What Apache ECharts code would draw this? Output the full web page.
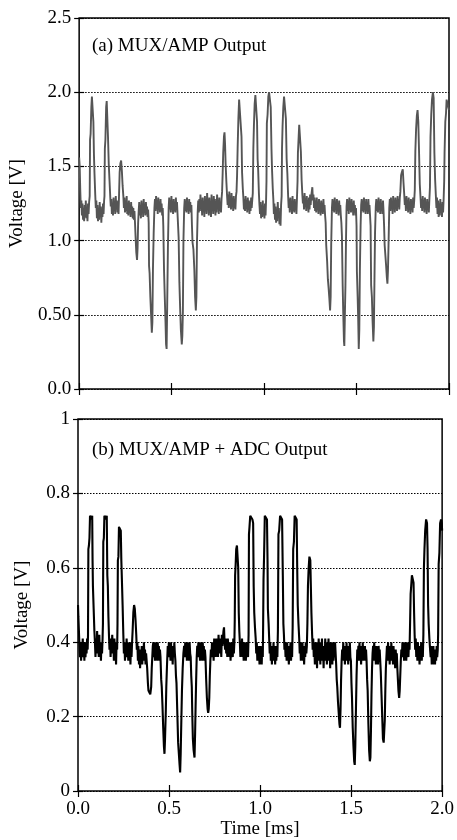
<!DOCTYPE html>
<html><head><meta charset="utf-8">
<script src="https://cdn.jsdelivr.net/npm/echarts@6/dist/echarts.min.js"></script>
<style>html,body{margin:0;padding:0;background:#fff}#c{width:457px;height:840px}</style>
</head><body><div id="c"></div>
<script>
const timeTicks = ['0.0','0.5','1.0','1.5','2.0'];
const voltTicksA = ['0.0','0.50','1.0','1.5','2.0','2.5'];
const voltTicksB = ['0','0.2','0.4','0.6','0.8','1'];
const panelTitles = ['(a) MUX/AMP Output','(b) MUX/AMP + ADC Output'];
const axisTitles = ['Time [ms]','Voltage [V]'];

// (a) MUX/AMP output: [time ms, voltage V]
const muxAmp = [
[0.000,1.56],[0.003,1.50],[0.006,1.34],[0.009,1.22],[0.012,1.27],[0.015,1.17],[0.018,1.25],[0.021,1.14],[0.024,1.22],[0.027,1.13],[0.030,1.24],[0.033,1.16],[0.036,1.27],[0.039,1.15],[0.042,1.21],[0.045,1.13],[0.048,1.25],[0.051,1.18],[0.054,1.26],
[0.057,1.30],[0.059,1.68],[0.062,1.72],[0.066,1.90],[0.069,1.97],[0.074,1.97],[0.077,1.80],[0.080,1.58],[0.083,1.45],[0.087,1.31],
[0.090,1.22],[0.093,1.27],[0.096,1.15],[0.099,1.24],[0.102,1.13],[0.105,1.20],[0.108,1.14],[0.111,1.26],[0.114,1.17],[0.117,1.23],[0.120,1.12],[0.123,1.21],[0.126,1.16],[0.129,1.25],[0.132,1.18],[0.135,1.27],
[0.137,1.30],[0.139,1.62],[0.142,1.68],[0.146,1.90],[0.149,1.94],[0.153,1.93],[0.156,1.70],[0.160,1.52],[0.164,1.41],[0.168,1.30],
[0.171,1.23],[0.174,1.28],[0.177,1.18],[0.180,1.25],[0.183,1.17],[0.186,1.29],[0.189,1.20],[0.192,1.26],[0.195,1.18],[0.198,1.30],[0.201,1.21],[0.204,1.27],[0.207,1.19],[0.210,1.24],[0.213,1.18],
[0.216,1.32],[0.219,1.46],[0.223,1.52],[0.227,1.54],[0.231,1.47],[0.235,1.37],[0.239,1.30],
[0.242,1.22],[0.245,1.29],[0.248,1.19],[0.251,1.27],[0.254,1.20],[0.257,1.30],[0.260,1.18],[0.263,1.25],[0.266,1.17],[0.269,1.27],[0.272,1.19],[0.275,1.24],[0.278,1.16],[0.281,1.26],[0.284,1.18],[0.287,1.23],[0.290,1.15],[0.293,1.22],[0.296,1.14],[0.299,1.20],
[0.302,1.12],[0.305,1.03],[0.309,0.92],[0.313,0.87],[0.316,0.95],[0.319,1.12],[0.322,1.20],
[0.325,1.26],[0.328,1.17],[0.331,1.24],[0.334,1.15],[0.337,1.27],[0.340,1.19],[0.343,1.25],[0.346,1.16],[0.349,1.28],[0.352,1.20],[0.355,1.24],[0.358,1.17],[0.361,1.26],[0.364,1.18],[0.367,1.23],[0.370,1.16],[0.373,1.21],
[0.376,1.12],[0.378,0.83],[0.381,0.78],[0.385,0.62],[0.389,0.50],[0.393,0.38],[0.396,0.45],[0.399,0.80],[0.403,1.05],[0.407,1.22],
[0.410,1.28],[0.413,1.20],[0.416,1.30],[0.419,1.22],[0.422,1.27],[0.425,1.18],[0.428,1.29],[0.431,1.21],[0.434,1.26],[0.437,1.19],[0.440,1.28],[0.443,1.20],[0.446,1.25],[0.449,1.17],[0.452,1.22],
[0.455,1.10],[0.459,0.80],[0.463,0.62],[0.467,0.45],[0.470,0.30],[0.473,0.27],[0.476,0.55],[0.480,0.95],[0.484,1.22],
[0.487,1.29],[0.490,1.21],[0.493,1.27],[0.496,1.19],[0.499,1.30],[0.502,1.22],[0.505,1.26],[0.508,1.18],[0.511,1.28],[0.514,1.20],[0.517,1.25],[0.520,1.19],[0.523,1.29],[0.526,1.21],[0.529,1.26],[0.532,1.18],
[0.535,1.10],[0.538,1.02],[0.542,0.72],[0.546,0.55],[0.550,0.40],[0.555,0.30],[0.558,0.36],[0.561,0.52],[0.564,1.00],[0.568,1.22],
[0.571,1.28],[0.574,1.20],[0.577,1.27],[0.580,1.19],[0.583,1.29],[0.586,1.21],[0.589,1.25],[0.592,1.18],[0.595,1.28],[0.598,1.20],[0.601,1.26],[0.604,1.19],[0.607,1.24],
[0.610,1.10],[0.613,0.99],[0.618,0.94],[0.623,0.80],[0.627,0.62],[0.631,0.53],[0.634,0.62],[0.637,0.98],[0.641,1.19],
[0.644,1.27],[0.647,1.19],[0.650,1.28],[0.653,1.20],[0.656,1.31],[0.659,1.22],[0.662,1.27],[0.665,1.17],[0.668,1.29],[0.671,1.20],[0.674,1.26],[0.677,1.16],[0.680,1.30],[0.683,1.21],[0.686,1.25],[0.689,1.18],[0.692,1.32],[0.695,1.22],[0.698,1.27],[0.701,1.17],[0.704,1.29],[0.707,1.19],[0.710,1.24],[0.713,1.16],[0.716,1.31],[0.719,1.21],[0.722,1.26],[0.725,1.18],[0.728,1.30],[0.731,1.20],[0.734,1.28],[0.737,1.17],[0.740,1.25],[0.743,1.19],[0.746,1.31],[0.749,1.21],[0.752,1.27],[0.755,1.18],[0.758,1.29],[0.761,1.20],[0.764,1.26],[0.767,1.19],[0.770,1.28],
[0.773,1.33],[0.776,1.45],[0.779,1.59],[0.783,1.70],[0.786,1.73],[0.789,1.65],[0.792,1.52],[0.796,1.40],[0.800,1.30],
[0.803,1.24],[0.806,1.31],[0.809,1.22],[0.812,1.33],[0.815,1.23],[0.818,1.29],[0.821,1.21],[0.824,1.32],[0.827,1.24],[0.830,1.28],[0.833,1.20],[0.836,1.30],[0.839,1.22],[0.842,1.27],[0.845,1.21],[0.848,1.30],
[0.851,1.33],[0.854,1.44],[0.857,1.62],[0.861,1.82],[0.865,1.95],[0.871,1.96],[0.875,1.95],[0.878,1.70],[0.881,1.46],[0.885,1.35],[0.888,1.29],
[0.891,1.21],[0.894,1.28],[0.897,1.20],[0.900,1.30],[0.903,1.22],[0.906,1.26],[0.909,1.19],[0.912,1.29],[0.915,1.21],[0.918,1.27],[0.921,1.18],[0.924,1.26],[0.927,1.20],[0.930,1.29],[0.933,1.22],[0.936,1.27],
[0.939,1.32],[0.942,1.62],[0.945,1.77],[0.949,1.92],[0.953,1.98],[0.958,1.97],[0.962,1.80],[0.965,1.55],[0.968,1.48],[0.972,1.32],
[0.975,1.24],[0.978,1.18],[0.981,1.26],[0.984,1.15],[0.987,1.24],[0.990,1.16],[0.993,1.27],[0.996,1.17],[0.999,1.23],[1.002,1.15],[1.005,1.25],[1.008,1.17],[1.011,1.28],
[1.013,1.40],[1.015,1.79],[1.019,1.85],[1.023,1.97],[1.027,2.00],[1.032,2.00],[1.036,1.90],[1.040,1.62],[1.043,1.48],[1.047,1.35],[1.050,1.28],
[1.053,1.18],[1.056,1.25],[1.059,1.14],[1.062,1.23],[1.065,1.12],[1.068,1.20],[1.071,1.13],[1.074,1.26],[1.077,1.16],[1.080,1.22],[1.083,1.11],[1.086,1.19],[1.089,1.10],[1.092,1.24],
[1.095,1.30],[1.097,1.62],[1.100,1.77],[1.104,1.90],[1.108,1.97],[1.114,1.97],[1.118,1.82],[1.122,1.55],[1.126,1.45],[1.130,1.30],
[1.133,1.22],[1.136,1.28],[1.139,1.19],[1.142,1.29],[1.145,1.21],[1.148,1.26],[1.151,1.18],[1.154,1.30],[1.157,1.20],[1.160,1.27],[1.163,1.19],[1.166,1.28],[1.169,1.21],[1.172,1.26],[1.175,1.18],[1.178,1.29],
[1.181,1.40],[1.183,1.59],[1.187,1.70],[1.190,1.78],[1.195,1.77],[1.199,1.60],[1.203,1.41],[1.207,1.31],
[1.210,1.25],[1.213,1.30],[1.216,1.21],[1.219,1.32],[1.222,1.23],[1.225,1.28],[1.228,1.20],[1.231,1.30],[1.234,1.22],[1.237,1.27],[1.240,1.19],[1.243,1.29],[1.246,1.21],[1.249,1.31],[1.252,1.24],[1.255,1.30],[1.258,1.33],[1.261,1.36],[1.264,1.27],[1.267,1.31],[1.270,1.22],[1.273,1.29],[1.276,1.20],[1.279,1.27],[1.282,1.19],[1.285,1.29],[1.288,1.21],[1.291,1.26],[1.294,1.18],[1.297,1.28],[1.300,1.21],[1.303,1.25],[1.306,1.17],[1.309,1.27],[1.312,1.19],[1.315,1.25],[1.318,1.18],[1.321,1.28],[1.324,1.20],[1.327,1.24],[1.330,1.17],
[1.333,1.12],[1.336,0.97],[1.341,0.86],[1.345,0.74],[1.349,0.68],[1.353,0.61],[1.357,0.53],[1.360,0.62],[1.363,0.97],[1.367,1.22],
[1.370,1.28],[1.373,1.20],[1.376,1.27],[1.379,1.19],[1.382,1.29],[1.385,1.21],[1.388,1.26],[1.391,1.18],[1.394,1.28],[1.397,1.20],[1.400,1.25],[1.403,1.17],[1.406,1.27],[1.409,1.20],[1.412,1.24],[1.415,1.17],
[1.418,1.12],[1.421,1.03],[1.425,0.70],[1.428,0.52],[1.432,0.32],[1.434,0.29],[1.437,0.50],[1.440,0.70],[1.443,1.00],[1.446,1.23],
[1.449,1.28],[1.452,1.20],[1.455,1.27],[1.458,1.18],[1.461,1.29],[1.464,1.21],[1.467,1.26],[1.470,1.19],[1.473,1.28],[1.476,1.20],[1.479,1.25],[1.482,1.17],[1.485,1.27],[1.488,1.19],[1.491,1.24],[1.494,1.17],[1.497,1.22],
[1.500,1.10],[1.502,0.79],[1.506,0.62],[1.509,0.47],[1.512,0.27],[1.515,0.40],[1.518,0.79],[1.522,1.10],[1.525,1.24],
[1.528,1.28],[1.531,1.20],[1.534,1.27],[1.537,1.19],[1.540,1.29],[1.543,1.21],[1.546,1.26],[1.549,1.18],[1.552,1.28],[1.555,1.20],[1.558,1.25],[1.561,1.18],[1.564,1.28],[1.567,1.21],[1.570,1.24],[1.573,1.17],
[1.576,1.10],[1.579,0.70],[1.583,0.62],[1.587,0.45],[1.591,0.32],[1.594,0.42],[1.597,0.74],[1.600,1.05],[1.604,1.23],
[1.607,1.28],[1.610,1.20],[1.613,1.27],[1.616,1.19],[1.619,1.29],[1.622,1.21],[1.625,1.26],[1.628,1.18],[1.631,1.28],[1.634,1.20],[1.637,1.25],[1.640,1.18],[1.643,1.27],[1.646,1.20],
[1.649,1.10],[1.652,0.97],[1.656,0.90],[1.660,0.83],[1.664,0.75],[1.667,0.71],[1.670,0.80],[1.673,0.97],[1.677,1.22],
[1.680,1.28],[1.683,1.20],[1.686,1.29],[1.689,1.21],[1.692,1.27],[1.695,1.18],[1.698,1.30],[1.701,1.22],[1.704,1.26],[1.707,1.19],[1.710,1.29],[1.713,1.21],[1.716,1.27],[1.719,1.20],[1.722,1.30],[1.725,1.23],[1.728,1.28],[1.731,1.21],[1.734,1.29],
[1.737,1.33],[1.741,1.44],[1.745,1.46],[1.750,1.48],[1.754,1.39],[1.758,1.31],
[1.761,1.24],[1.764,1.29],[1.767,1.20],[1.770,1.30],[1.773,1.22],[1.776,1.27],[1.779,1.19],[1.782,1.29],[1.785,1.21],[1.788,1.26],[1.791,1.18],[1.794,1.28],[1.797,1.21],[1.800,1.27],[1.803,1.19],[1.806,1.29],[1.809,1.22],[1.812,1.27],
[1.815,1.34],[1.818,1.60],[1.822,1.75],[1.826,1.84],[1.830,1.88],[1.834,1.80],[1.838,1.60],[1.842,1.38],[1.846,1.29],
[1.849,1.22],[1.852,1.28],[1.855,1.20],[1.858,1.30],[1.861,1.22],[1.864,1.27],[1.867,1.19],[1.870,1.29],[1.873,1.21],[1.876,1.26],[1.879,1.18],[1.882,1.28],[1.885,1.21],[1.888,1.25],[1.891,1.19],[1.894,1.28],
[1.897,1.36],[1.900,1.70],[1.904,1.85],[1.908,1.95],[1.913,2.00],[1.917,1.96],[1.921,1.59],[1.925,1.41],[1.929,1.30],
[1.932,1.22],[1.935,1.29],[1.938,1.18],[1.941,1.27],[1.944,1.16],[1.947,1.25],[1.950,1.17],[1.953,1.28],[1.956,1.19],[1.959,1.24],[1.962,1.16],[1.965,1.26],[1.968,1.19],[1.971,1.28],
[1.974,1.40],[1.976,1.59],[1.980,1.80],[1.984,1.86],[1.987,1.95],[1.992,1.95],[1.996,1.90],[2.000,1.88]
];

// (b) MUX/AMP + ADC output: [time ms, voltage V]
const muxAmpAdc = [
[0.000,0.50],[0.002,0.47],[0.005,0.43],[0.008,0.39],[0.011,0.36],[0.014,0.40],[0.017,0.35],[0.020,0.39],[0.023,0.36],[0.026,0.41],[0.029,0.37],[0.032,0.39],[0.035,0.35],[0.038,0.40],[0.041,0.36],[0.044,0.39],[0.047,0.37],[0.050,0.41],[0.053,0.38],
[0.055,0.42],[0.057,0.65],[0.060,0.66],[0.063,0.68],[0.066,0.74],[0.070,0.74],[0.074,0.73],[0.078,0.74],[0.080,0.62],[0.082,0.55],[0.086,0.49],[0.090,0.43],
[0.093,0.40],[0.096,0.36],[0.099,0.41],[0.102,0.37],[0.105,0.43],[0.108,0.38],[0.111,0.40],[0.114,0.36],[0.117,0.42],[0.120,0.37],[0.123,0.39],[0.126,0.35],[0.129,0.40],[0.132,0.37],[0.135,0.41],
[0.137,0.45],[0.139,0.67],[0.142,0.68],[0.145,0.74],[0.150,0.74],[0.154,0.73],[0.158,0.74],[0.161,0.58],[0.164,0.55],[0.167,0.47],[0.170,0.42],
[0.173,0.38],[0.176,0.41],[0.179,0.36],[0.182,0.40],[0.185,0.37],[0.188,0.42],[0.191,0.38],[0.194,0.40],[0.197,0.35],[0.200,0.41],[0.203,0.37],[0.206,0.39],[0.209,0.34],[0.212,0.40],[0.215,0.38],
[0.217,0.45],[0.219,0.62],[0.222,0.63],[0.225,0.71],[0.230,0.71],[0.235,0.70],[0.238,0.62],[0.241,0.57],[0.245,0.50],[0.249,0.42],
[0.252,0.37],[0.255,0.40],[0.258,0.35],[0.261,0.39],[0.264,0.36],[0.267,0.41],[0.270,0.37],[0.273,0.40],[0.276,0.35],[0.279,0.39],[0.282,0.36],[0.285,0.40],[0.288,0.34],[0.291,0.39],[0.294,0.36],[0.297,0.40],
[0.300,0.43],[0.304,0.48],[0.308,0.50],[0.312,0.49],[0.316,0.46],[0.320,0.42],
[0.323,0.38],[0.326,0.40],[0.329,0.35],[0.332,0.39],[0.335,0.34],[0.338,0.38],[0.341,0.33],[0.344,0.37],[0.347,0.35],[0.350,0.39],[0.353,0.34],[0.356,0.38],[0.359,0.35],[0.362,0.40],[0.365,0.36],[0.368,0.38],[0.371,0.34],[0.374,0.37],
[0.377,0.35],[0.380,0.33],[0.384,0.29],[0.387,0.27],[0.392,0.27],[0.397,0.26],[0.402,0.28],[0.405,0.33],[0.408,0.36],[0.411,0.39],
[0.414,0.40],[0.417,0.36],[0.420,0.39],[0.423,0.35],[0.426,0.40],[0.429,0.36],[0.432,0.38],[0.435,0.35],[0.438,0.40],[0.441,0.37],[0.444,0.39],[0.447,0.35],[0.450,0.38],
[0.453,0.36],[0.457,0.30],[0.460,0.28],[0.464,0.23],[0.468,0.17],[0.472,0.12],[0.475,0.10],[0.478,0.14],[0.482,0.21],[0.485,0.28],[0.489,0.34],[0.493,0.39],
[0.496,0.36],[0.499,0.40],[0.502,0.37],[0.505,0.39],[0.508,0.35],[0.511,0.40],[0.514,0.36],[0.517,0.38],[0.520,0.34],[0.523,0.39],[0.526,0.36],[0.529,0.40],[0.532,0.37],
[0.535,0.35],[0.538,0.31],[0.541,0.29],[0.545,0.22],[0.550,0.13],[0.554,0.10],[0.558,0.07],[0.561,0.05],[0.564,0.10],[0.568,0.20],[0.571,0.27],[0.575,0.33],[0.579,0.37],[0.583,0.39],
[0.586,0.36],[0.589,0.40],[0.592,0.37],[0.595,0.39],[0.598,0.35],[0.601,0.40],[0.604,0.36],[0.607,0.38],[0.610,0.35],[0.613,0.40],[0.616,0.37],
[0.619,0.36],[0.622,0.31],[0.625,0.28],[0.628,0.20],[0.631,0.14],[0.635,0.11],[0.640,0.09],[0.643,0.15],[0.646,0.23],[0.649,0.30],[0.652,0.36],
[0.655,0.39],[0.658,0.36],[0.661,0.40],[0.664,0.37],[0.667,0.39],[0.670,0.35],[0.673,0.40],[0.676,0.36],[0.679,0.39],[0.682,0.35],[0.685,0.40],[0.688,0.37],[0.691,0.39],[0.694,0.35],[0.697,0.38],
[0.700,0.36],[0.704,0.30],[0.708,0.25],[0.712,0.22],[0.715,0.21],[0.718,0.22],[0.721,0.25],[0.724,0.31],[0.727,0.35],[0.730,0.38],
[0.733,0.36],[0.736,0.40],[0.739,0.37],[0.742,0.39],[0.745,0.35],[0.748,0.41],[0.751,0.37],[0.754,0.40],[0.757,0.36],[0.760,0.41],[0.763,0.38],[0.766,0.40],[0.769,0.36],[0.772,0.42],[0.775,0.38],[0.778,0.41],[0.781,0.37],[0.784,0.40],[0.787,0.36],[0.790,0.42],[0.793,0.39],[0.796,0.41],[0.799,0.43],[0.802,0.44],[0.805,0.40],[0.808,0.38],[0.811,0.41],[0.814,0.37],[0.817,0.40],[0.820,0.36],[0.823,0.41],[0.826,0.38],[0.829,0.40],[0.832,0.36],[0.835,0.39],[0.838,0.35],[0.841,0.40],[0.844,0.37],[0.847,0.39],[0.850,0.36],[0.853,0.41],[0.856,0.37],[0.859,0.40],
[0.861,0.46],[0.863,0.58],[0.866,0.61],[0.869,0.65],[0.873,0.66],[0.877,0.66],[0.880,0.60],[0.883,0.48],[0.886,0.43],[0.889,0.40],
[0.892,0.36],[0.895,0.40],[0.898,0.37],[0.901,0.41],[0.904,0.36],[0.907,0.39],[0.910,0.35],[0.913,0.40],[0.916,0.37],[0.919,0.39],[0.922,0.35],[0.925,0.40],[0.928,0.37],[0.931,0.39],[0.934,0.36],
[0.937,0.42],[0.939,0.69],[0.942,0.71],[0.946,0.74],[0.952,0.74],[0.958,0.73],[0.962,0.72],[0.965,0.55],[0.968,0.48],[0.972,0.44],[0.976,0.41],
[0.979,0.37],[0.982,0.40],[0.985,0.35],[0.988,0.39],[0.991,0.35],[0.994,0.38],[0.997,0.34],[1.000,0.39],[1.003,0.35],[1.006,0.38],[1.009,0.34],[1.012,0.39],[1.015,0.36],
[1.017,0.45],[1.019,0.57],[1.022,0.63],[1.026,0.74],[1.032,0.74],[1.038,0.73],[1.041,0.62],[1.043,0.49],[1.047,0.45],[1.050,0.41],
[1.053,0.37],[1.056,0.40],[1.059,0.35],[1.062,0.39],[1.065,0.34],[1.068,0.38],[1.071,0.36],[1.074,0.40],[1.077,0.35],[1.080,0.38],[1.083,0.34],[1.086,0.39],[1.089,0.35],[1.092,0.38],[1.095,0.36],
[1.098,0.43],[1.101,0.69],[1.105,0.70],[1.110,0.74],[1.116,0.74],[1.121,0.73],[1.125,0.58],[1.128,0.45],[1.131,0.42],
[1.134,0.38],[1.137,0.40],[1.140,0.36],[1.143,0.39],[1.146,0.35],[1.149,0.40],[1.152,0.36],[1.155,0.38],[1.158,0.34],[1.161,0.39],[1.164,0.36],[1.167,0.40],[1.170,0.35],[1.173,0.38],[1.176,0.36],
[1.179,0.44],[1.182,0.65],[1.186,0.67],[1.190,0.74],[1.196,0.74],[1.201,0.73],[1.204,0.60],[1.207,0.50],[1.211,0.45],[1.215,0.41],
[1.218,0.37],[1.221,0.40],[1.224,0.35],[1.227,0.39],[1.230,0.36],[1.233,0.40],[1.236,0.35],[1.239,0.38],[1.242,0.34],[1.245,0.39],[1.248,0.36],[1.251,0.40],[1.254,0.37],[1.257,0.39],
[1.260,0.45],[1.263,0.55],[1.267,0.60],[1.271,0.63],[1.276,0.62],[1.279,0.55],[1.282,0.48],[1.286,0.42],
[1.289,0.38],[1.292,0.41],[1.295,0.36],[1.298,0.39],[1.301,0.34],[1.304,0.40],[1.307,0.36],[1.310,0.38],[1.313,0.33],[1.316,0.40],[1.319,0.36],[1.322,0.41],[1.325,0.35],[1.328,0.38],[1.331,0.34],[1.334,0.40],[1.337,0.36],[1.340,0.41],[1.343,0.35],[1.346,0.38],[1.349,0.33],[1.352,0.39],[1.355,0.35],[1.358,0.41],[1.361,0.37],[1.364,0.40],[1.367,0.34],[1.370,0.39],[1.373,0.36],[1.376,0.41],[1.379,0.35],[1.382,0.38],[1.385,0.33],[1.388,0.40],[1.391,0.36],[1.394,0.39],[1.397,0.34],[1.400,0.40],[1.403,0.35],[1.406,0.38],[1.409,0.36],[1.412,0.40],[1.415,0.37],
[1.418,0.34],[1.421,0.30],[1.424,0.28],[1.428,0.24],[1.432,0.21],[1.436,0.18],[1.439,0.17],[1.442,0.22],[1.445,0.30],[1.448,0.35],[1.451,0.38],
[1.454,0.36],[1.457,0.40],[1.460,0.35],[1.463,0.39],[1.466,0.34],[1.469,0.38],[1.472,0.35],[1.475,0.40],[1.478,0.36],[1.481,0.39],[1.484,0.34],[1.487,0.38],[1.490,0.35],[1.493,0.40],[1.496,0.36],
[1.499,0.35],[1.502,0.29],[1.505,0.25],[1.509,0.17],[1.513,0.12],[1.517,0.08],[1.520,0.07],[1.523,0.12],[1.527,0.23],[1.530,0.31],[1.534,0.38],
[1.537,0.36],[1.540,0.39],[1.543,0.35],[1.546,0.40],[1.549,0.36],[1.552,0.38],[1.555,0.34],[1.558,0.39],[1.561,0.36],[1.564,0.40],[1.567,0.35],[1.570,0.38],[1.573,0.36],[1.576,0.39],[1.579,0.35],[1.582,0.38],
[1.585,0.35],[1.588,0.30],[1.591,0.27],[1.595,0.18],[1.599,0.11],[1.603,0.08],[1.606,0.09],[1.609,0.16],[1.612,0.26],[1.615,0.33],[1.618,0.37],
[1.621,0.39],[1.624,0.35],[1.627,0.40],[1.630,0.36],[1.633,0.38],[1.636,0.34],[1.639,0.39],[1.642,0.35],[1.645,0.38],[1.648,0.34],[1.651,0.39],[1.654,0.36],[1.657,0.38],[1.660,0.35],
[1.663,0.32],[1.667,0.26],[1.671,0.20],[1.675,0.14],[1.679,0.13],[1.682,0.13],[1.685,0.19],[1.688,0.27],[1.691,0.33],[1.694,0.36],
[1.697,0.39],[1.700,0.35],[1.703,0.40],[1.706,0.36],[1.709,0.38],[1.712,0.34],[1.715,0.39],[1.718,0.35],[1.721,0.40],[1.724,0.36],[1.727,0.38],[1.730,0.34],[1.733,0.39],[1.736,0.35],[1.739,0.37],[1.742,0.33],[1.745,0.38],[1.748,0.35],[1.751,0.37],
[1.754,0.33],[1.757,0.30],[1.760,0.27],[1.764,0.25],[1.767,0.27],[1.770,0.31],[1.773,0.35],[1.776,0.38],
[1.779,0.36],[1.782,0.40],[1.785,0.37],[1.788,0.39],[1.791,0.35],[1.794,0.40],[1.797,0.36],[1.800,0.39],[1.803,0.35],[1.806,0.40],[1.809,0.37],[1.812,0.39],[1.815,0.36],[1.818,0.40],[1.821,0.38],
[1.824,0.45],[1.827,0.53],[1.830,0.55],[1.834,0.58],[1.839,0.58],[1.843,0.56],[1.846,0.48],[1.849,0.42],
[1.852,0.38],[1.855,0.41],[1.858,0.36],[1.861,0.39],[1.864,0.35],[1.867,0.40],[1.870,0.36],[1.873,0.38],[1.876,0.34],[1.879,0.39],[1.882,0.36],[1.885,0.40],[1.888,0.35],[1.891,0.38],[1.894,0.36],
[1.897,0.42],[1.900,0.60],[1.903,0.65],[1.907,0.70],[1.912,0.73],[1.917,0.72],[1.920,0.65],[1.923,0.50],[1.926,0.45],[1.930,0.41],[1.934,0.38],
[1.937,0.36],[1.940,0.39],[1.943,0.34],[1.946,0.38],[1.949,0.35],[1.952,0.39],[1.955,0.34],[1.958,0.37],[1.961,0.34],[1.964,0.38],[1.967,0.35],[1.970,0.39],[1.973,0.36],[1.976,0.38],
[1.978,0.42],[1.981,0.61],[1.985,0.64],[1.989,0.72],[1.994,0.73],[1.998,0.72],[2.000,0.70]
];

const FONT = '"Liberation Serif", "Times New Roman", serif';
const chart = echarts.init(document.getElementById('c'), null, {renderer: 'canvas'});

function xAx(gridIndex, position, showLabels) {
  return {
    type: 'value', gridIndex, position, min: 0, max: 2, interval: 0.5,
    axisLine: {show: false},
    axisTick: {show: true, inside: true, length: 6, lineStyle: {color: '#000', width: 1.2}},
    axisLabel: {show: showLabels, margin: 9, color: '#000', fontFamily: FONT, fontSize: 19,
      formatter: v => timeTicks[Math.round(v / 0.5)]},
    splitLine: {show: false},
    name: showLabels ? axisTitles[0] : '', nameLocation: 'middle', nameGap: 24,
    nameTextStyle: {color: '#000', fontFamily: FONT, fontSize: 19}
  };
}
function yAx(gridIndex, position, max, interval, labels, main) {
  return {
    type: 'value', gridIndex, position, min: 0, max, interval,
    axisLine: {show: false},
    axisTick: {show: true, inside: true, length: 5, lineStyle: {color: '#000', width: 1.2}},
    axisLabel: {show: main, margin: 8, color: '#000', fontFamily: FONT, fontSize: 19,
      formatter: v => labels[Math.round(v / interval)]},
    splitLine: {show: main, lineStyle: {color: '#000', type: [1.5, 1.5], width: 1}},
    name: main ? axisTitles[1] : '', nameLocation: 'middle', nameGap: 46,
    nameTextStyle: {color: '#000', fontFamily: FONT, fontSize: 19}
  };
}

chart.setOption({
  animation: false,
  backgroundColor: '#fff',
  title: [
    {text: panelTitles[0], left: 87, top: 32, textStyle: {fontFamily: FONT, fontSize: 19, fontWeight: 'normal', color: '#000'}},
    {text: panelTitles[1], left: 87, top: 436, textStyle: {fontFamily: FONT, fontSize: 19, fontWeight: 'normal', color: '#000'}}
  ],
  grid: [
    {left: 78, right: 8, top: 18, height: 371, show: true, borderColor: '#000', borderWidth: 1.5, backgroundColor: 'transparent'},
    {left: 78, right: 8, top: 419, height: 372, show: true, borderColor: '#000', borderWidth: 1.5, backgroundColor: 'transparent'}
  ],
  xAxis: [xAx(0, 'bottom', false), xAx(0, 'top', false), xAx(1, 'bottom', true), xAx(1, 'top', false)],
  yAxis: [
    yAx(0, 'left', 2.5, 0.5, voltTicksA, true), yAx(0, 'right', 2.5, 0.5, voltTicksA, false),
    yAx(1, 'left', 1, 0.2, voltTicksB, true), yAx(1, 'right', 1, 0.2, voltTicksB, false)
  ],
  series: [
    {type: 'line', xAxisIndex: 0, yAxisIndex: 0, data: muxAmp, showSymbol: false, symbol: 'none',
      lineStyle: {color: '#555', width: 1.9}, z: 3},
    {type: 'line', xAxisIndex: 2, yAxisIndex: 2, data: muxAmpAdc, showSymbol: false, symbol: 'none',
      lineStyle: {color: '#000', width: 2.1}, z: 3}
  ]
});
</script></body></html>
